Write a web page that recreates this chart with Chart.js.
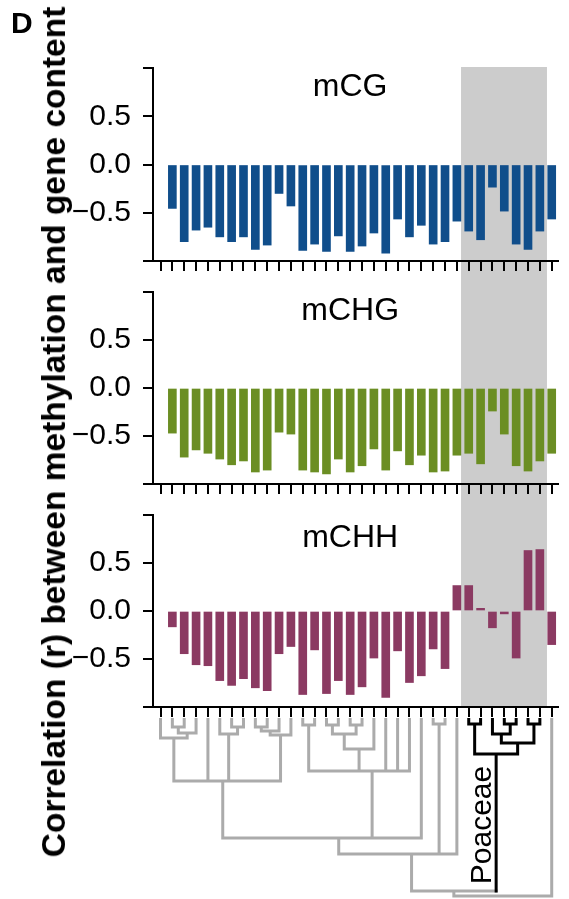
<!DOCTYPE html>
<html>
<head>
<meta charset="utf-8">
<script src="https://cdn.jsdelivr.net/npm/chart.js@4.4.1/dist/chart.umd.min.js"></script>
<style>
  html, body { margin: 0; padding: 0; background: #fff; }
  #wrap { position: relative; width: 569px; height: 899px; overflow: hidden; }
  canvas { position: absolute; left: 0; }
  #ylab {
    position: absolute; left: 53.5px; top: 432px;
    transform: translate(-50%, -50%) rotate(-90deg);
    white-space: nowrap; line-height: 1;
    font: bold 33.5px "Liberation Sans", Arial, sans-serif;
  }
  #tag { position: absolute; left: 11px; top: 6px; line-height: 1; font: bold 30px "Liberation Sans", Arial, sans-serif; }
</style>
</head>
<body>
<div id="wrap">
  <canvas id="c1" width="569" height="285" style="top:0px"></canvas>
  <canvas id="c2" width="569" height="223" style="top:285px"></canvas>
  <canvas id="c3" width="569" height="210" style="top:508px"></canvas>
  <canvas id="tree" width="569" height="181" style="top:718px"></canvas>
  <div id="ylab">Correlation (r) between methylation and gene content</div>
  <div id="tag">D</div>
</div>
<script>
// ---- data ----
// 34 leaves of the species tree; leaf 0 has no value
const leaves = Array.from({ length: 34 }, (_, i) => i);

const mCG = [null, -0.455, -0.80, -0.68, -0.65, -0.75, -0.80, -0.75, -0.88, -0.835, -0.30,
  -0.43, -0.89, -0.825, -0.90, -0.74, -0.90, -0.845, -0.71, -0.92, -0.565,
  -0.75, -0.63, -0.825, -0.80, -0.587, -0.69, -0.78, -0.235, -0.483, -0.825,
  -0.88, -0.69, -0.565];

const mCHG = [null, -0.47, -0.72, -0.645, -0.68, -0.74, -0.80, -0.76, -0.875, -0.855, -0.46,
  -0.48, -0.855, -0.875, -0.895, -0.74, -0.875, -0.81, -0.635, -0.855, -0.655,
  -0.80, -0.70, -0.875, -0.865, -0.70, -0.68, -0.79, -0.24, -0.48, -0.81,
  -0.865, -0.76, -0.68];

const mCHH = [null, -0.165, -0.445, -0.56, -0.57, -0.725, -0.775, -0.705, -0.80, -0.83, -0.445,
  -0.37, -0.87, -0.405, -0.86, -0.725, -0.87, -0.79, -0.49, -0.90, -0.415,
  -0.745, -0.675, -0.395, -0.60, 0.265, 0.265, 0.028, -0.175, -0.03, -0.49,
  0.63, 0.64, -0.35];

const yTicks = [-1, -0.5, 0, 0.5, 1];

// Poaceae clade, shaded (x in leaf units)
const shadeRange = [25.35, 32.6];

// tree: [node, children, depth below leaf tips]
const treeNodes = [
  ['n1', [1, 2], 8],
  ['n2', ['n1', 3], 14],
  ['n3', [0, 'n2'], 19],
  ['n4', [6, 7], 8],
  ['n5', [5, 'n4'], 15],
  ['n6', [8, 9], 8],
  ['n7', ['n6', 10], 12],
  ['n8', ['n7', 11], 16],
  ['n9', ['n3', 4, 'n5', 'n8'], 62],
  ['n10', [12, 13], 6],
  ['n11', [14, 15], 6],
  ['n12', [16, 17], 6],
  ['n13', ['n11', 'n12'], 15],
  ['n14', ['n13', 18], 30],
  ['n15', ['n10', 'n14', 19, 20, 21], 52],
  ['n16', ['n9', 'n15', 22], 119],
  ['n17a', [23, 24], 5],
  ['n17', ['n16', 'n17a', 25], 135],
  ['p1', [26, 27], 5],
  ['p2', [29, 30], 5],
  ['p3', [28, 'p2'], 15],
  ['p4', [31, 32], 5],
  ['p5', ['p3', 'p4'], 24],
  ['p6', ['p1', 'p5'], 35],
  ['n18', ['n17', 'p6'], 172],
  ['n19', ['n18', 33], 177],
];
const poaceae = [26, 27, 28, 29, 30, 31, 32, 'p1', 'p2', 'p3', 'p4', 'p5', 'p6'];

// ---- setup ----
Chart.defaults.font.family = '"Liberation Sans", Arial, sans-serif';
Chart.defaults.color = '#000';

const X_MIN = -0.633, X_MAX = 33.53;
const AXIS_LEFT = 153, PAD_RIGHT = 11;

function fmt(v) {
  if (v === 0) return '0.0';
  return (v < 0 ? '\u2212' : '') + Math.abs(v).toFixed(1);
}

const shadePlugin = {
  id: 'shade',
  beforeDraw(chart, args, opts) {
    const { ctx, chartArea, scales: { x } } = chart;
    const x0 = x.getPixelForValue(shadeRange[0]);
    const x1 = x.getPixelForValue(shadeRange[1]);
    const top = opts.fromTop ? chartArea.top - 1 : 0;
    const bottom = opts.toAxis ? chartArea.bottom : chart.height;
    ctx.save();
    ctx.fillStyle = '#cccccc';
    ctx.fillRect(x0, top, x1 - x0, bottom - top);
    ctx.restore();
  }
};

const titlePlugin = {
  id: 'panelTitle',
  afterDraw(chart, args, opts) {
    const { ctx, chartArea, scales: { x } } = chart;
    ctx.save();
    ctx.font = '32px "Liberation Sans", Arial, sans-serif';
    ctx.fillStyle = '#000';
    ctx.textAlign = 'center';
    ctx.textBaseline = 'alphabetic';
    ctx.fillText(opts.text, x.getPixelForValue(16), chartArea.top + opts.dy);
    ctx.restore();
  }
};

const panels = [
  { id: 'c1', name: 'mCG',  values: mCG,  color: '#104E8B', pad: [68, 14], dy: 28, fromTop: true,  toAxis: false },
  { id: 'c2', name: 'mCHG', values: mCHG, color: '#6B8E23', pad: [7, 14],  dy: 28, fromTop: false, toAxis: false },
  { id: 'c3', name: 'mCHH', values: mCHH, color: '#8B3A62', pad: [7, 1],   dy: 32, fromTop: false, toAxis: true },
];

panels.forEach(p => {
  new Chart(document.getElementById(p.id), {
    type: 'bar',
    data: {
      datasets: [{
        data: p.values.map((v, i) => ({ x: leaves[i], y: v })),
        backgroundColor: p.color,
        barThickness: 8,
      }]
    },
    options: {
      responsive: false,
      animation: false,
      devicePixelRatio: 1,
      layout: { padding: { top: p.pad[0], bottom: p.pad[1], left: 0, right: PAD_RIGHT } },
      plugins: {
        legend: { display: false },
        tooltip: { enabled: false },
        shade: { fromTop: p.fromTop, toAxis: p.toAxis },
        panelTitle: { text: p.name, dy: p.dy },
      },
      scales: {
        x: {
          type: 'linear', min: X_MIN, max: X_MAX, offset: false,
          afterBuildTicks: s => { s.ticks = leaves.map(v => ({ value: v })); },
          ticks: { display: false },
          grid: { display: true, offset: false, drawOnChartArea: false, drawTicks: true, tickLength: 10, color: '#000', lineWidth: 2 },
          border: { display: true, color: '#000', width: 2 },
        },
        y: {
          min: -1, max: 1,
          afterBuildTicks: s => { s.ticks = yTicks.map(v => ({ value: v })); },
          afterFit: s => { s.width = AXIS_LEFT; s.paddingTop = 0; s.paddingBottom = 0; },
          ticks: {
            font: { size: 30 }, color: '#000', padding: 12,
            callback: v => (Math.abs(v) === 1 ? '' : fmt(v)),
          },
          grid: { display: true, drawOnChartArea: false, drawTicks: true, tickLength: 10, color: '#000', lineWidth: 2 },
          border: { display: true, color: '#000', width: 2 },
        }
      }
    },
    plugins: [shadePlugin, titlePlugin]
  });
});

// ---- tree ----
const pos = {};
leaves.forEach(i => { pos[i] = { x: i, d: 0 }; });
const graySeg = [], blackSeg = [];
treeNodes.forEach(([id, kids, d]) => {
  const xs = kids.map(k => pos[k].x);
  pos[id] = { x: xs.reduce((a, b) => a + b, 0) / xs.length, d };
  kids.forEach(k => {
    const seg = poaceae.includes(k) ? blackSeg : graySeg;
    seg.push({ x: pos[k].x, y: pos[k].d }, { x: pos[k].x, y: d }, { x: pos[k].x, y: null });
  });
  const hseg = kids.every(k => poaceae.includes(k)) ? blackSeg : graySeg;
  hseg.push({ x: Math.min(...xs), y: d }, { x: Math.max(...xs), y: d }, { x: Math.max(...xs), y: null });
});

const cladeLabel = {
  id: 'cladeLabel',
  afterDraw(chart) {
    const { ctx, scales: { x, y } } = chart;
    ctx.save();
    ctx.translate(x.getPixelForValue(pos.p6.x) - 5, y.getPixelForValue(106));
    ctx.rotate(-Math.PI / 2);
    ctx.font = '30px "Liberation Sans", Arial, sans-serif';
    ctx.fillStyle = '#000';
    ctx.textAlign = 'center';
    ctx.textBaseline = 'alphabetic';
    ctx.fillText('Poaceae', 0, 0);
    ctx.restore();
  }
};

new Chart(document.getElementById('tree'), {
  type: 'scatter',
  data: {
    datasets: [
      { data: blackSeg, showLine: true, borderColor: '#000', borderWidth: 3, pointRadius: 0, borderCapStyle: 'square', clip: false },
      { data: graySeg, showLine: true, borderColor: '#ababab', borderWidth: 3, pointRadius: 0, borderCapStyle: 'square', clip: false },
    ]
  },
  options: {
    responsive: false,
    animation: false,
    devicePixelRatio: 1,
    layout: { padding: { top: 1, bottom: 0, left: AXIS_LEFT, right: PAD_RIGHT } },
    plugins: { legend: { display: false }, tooltip: { enabled: false } },
    scales: {
      x: { type: 'linear', min: X_MIN, max: X_MAX, display: false },
      y: { type: 'linear', min: 0, max: 180, reverse: true, display: false },
    }
  },
  plugins: [cladeLabel]
});
</script>
</body>
</html>
